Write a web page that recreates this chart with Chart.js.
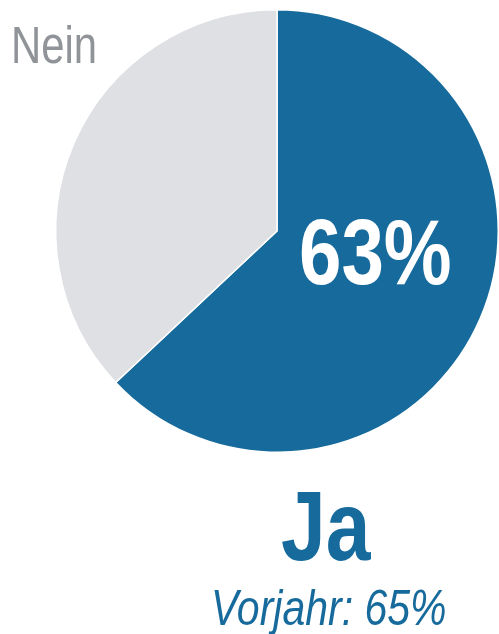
<!DOCTYPE html>
<html><head><meta charset="utf-8">
<script src="https://cdn.jsdelivr.net/npm/chart.js@4"></script>
<style>html,body{margin:0;padding:0;background:#fff;}#wrap{position:relative;width:499px;height:634px;}</style>
</head><body><div id="wrap"><canvas id="c" width="499" height="634"></canvas></div>
<script>
const categories = ["Ja", "Nein"];
const values = [63, 37];
const previousYear = 65;
const colors = ["#176b9c", "#dfe0e4"];

const FONT = '"Liberation Sans", Arial, sans-serif';
const NARROW = 0.82;

function narrowText(ctx, text, x, y, font, color) {
  ctx.save();
  ctx.font = font;
  ctx.fillStyle = color;
  ctx.textBaseline = 'alphabetic';
  ctx.textAlign = 'left';
  ctx.translate(x, y);
  ctx.scale(NARROW, 1);
  ctx.fillText(text, 0, 0);
  ctx.restore();
}

const labelsPlugin = {
  id: 'labels',
  afterDraw(chart) {
    const ctx = chart.ctx;
    narrowText(ctx, categories[1], 11, 63, '51px ' + FONT, '#909398');
    narrowText(ctx, values[0] + '%', 299, 284, 'bold 93px ' + FONT, '#ffffff');
    narrowText(ctx, categories[0], 281, 560, 'bold 98px ' + FONT, colors[0]);
    narrowText(ctx, 'Vorjahr: ' + previousYear + '%', 211, 625, 'italic 50px ' + FONT, colors[0]);
  }
};

new Chart(document.getElementById('c'), {
  type: 'pie',
  data: {
    labels: categories,
    datasets: [{
      data: values,
      backgroundColor: colors,
      borderColor: '#ffffff',
      borderWidth: 1.5
    }]
  },
  options: {
    responsive: false,
    animation: false,
    rotation: 0,
    layout: { padding: { left: 55, top: 8, right: 0, bottom: 180 } },
    plugins: { legend: { display: false }, tooltip: { enabled: false } }
  },
  plugins: [labelsPlugin]
});
</script></body></html>
